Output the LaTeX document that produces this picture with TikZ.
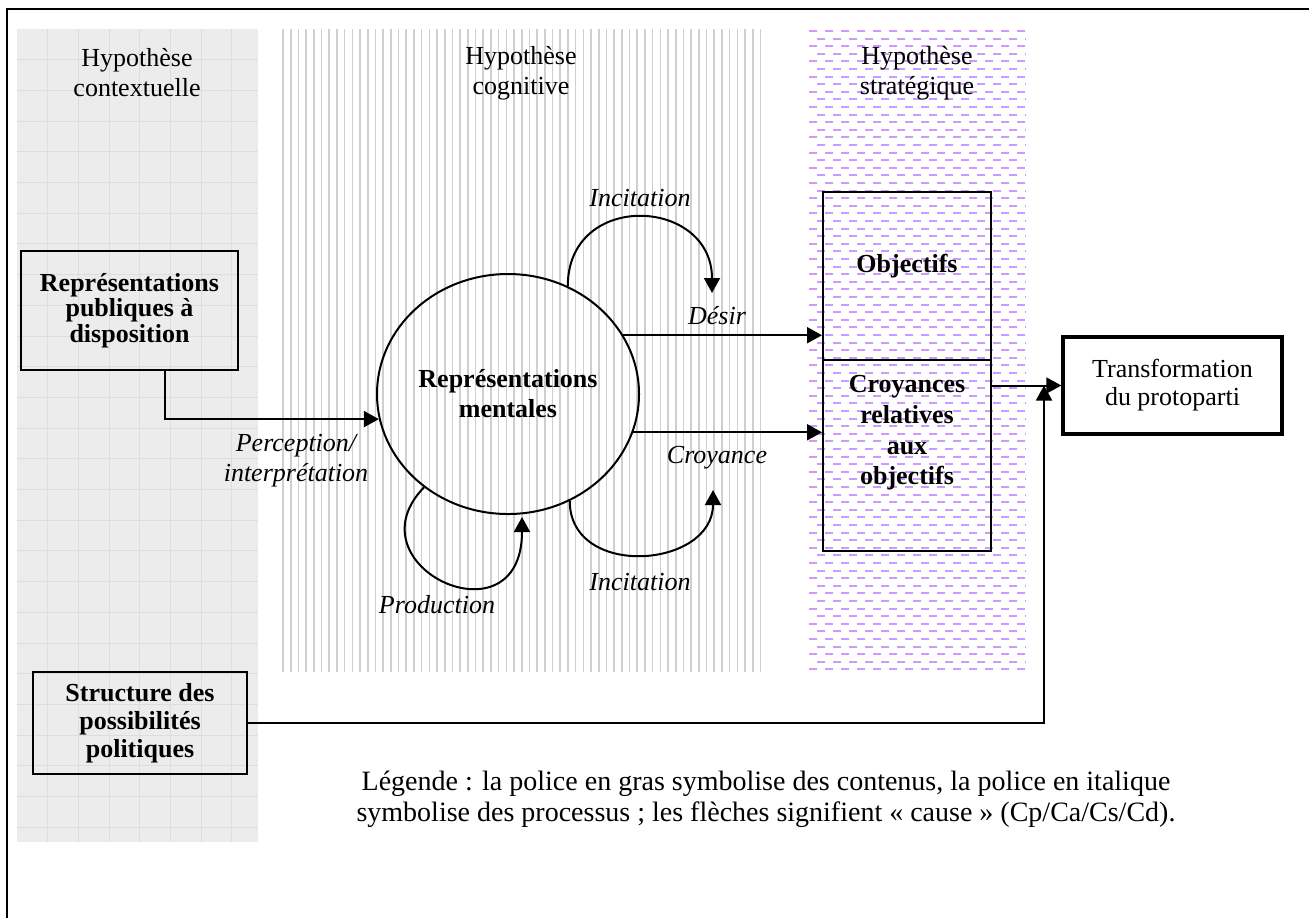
\documentclass[tikz,border=0pt]{standalone}
\usepackage{fontspec}
\setmainfont{Liberation Serif}
\usepackage{tikz}
\usetikzlibrary{arrows.meta,shapes.geometric}
\definecolor{lavande}{RGB}{204,153,255}

\begin{document}
\begin{tikzpicture}[x=0.5pt,y=0.5pt,>={Triangle[length=7.5pt,width=8pt]},
                line join=miter,font=\fontsize{13}{15}\selectfont,
                boite/.style={draw,line width=1pt,align=center,inner sep=0pt,font=\fontsize{13}{15}\selectfont\bfseries},
                gras/.style={align=center,font=\fontsize{13}{15.3}\selectfont\bfseries},
                proc/.style={align=center,font=\fontsize{13}{15}\selectfont\itshape},
                titre/.style={align=center,font=\fontsize{13}{15}\selectfont},
                fleche/.style={->,line width=1pt}]
            \useasboundingbox (0,0) rectangle (1309,-918);

            \fill[gray!15] (17,-29) rectangle (258,-842);
            \foreach \i in {1,...,7}
                \draw[gray!27,line width=0.5pt] ({17+30.7*\i},-29) -- ({17+30.7*\i},-842);
            \foreach \j in {1,...,26}
                \draw[gray!27,line width=0.5pt] (17,{-29-30.7*\j}) -- (258,{-29-30.7*\j});
            \foreach \i in {0,...,62}
                \draw[gray!38,line width=0.8pt] ({283+7.7*\i},-29) -- ({283+7.7*\i},-672);
            \foreach \j in {0,2,...,84}
                \draw[lavande,line width=1pt,dash pattern=on 4pt off 4pt] (809,{-31-7.6*\j}) -- (1026,{-31-7.6*\j});
            \foreach \j in {1,3,...,83}
                \draw[lavande,line width=1pt,dash pattern=on 4pt off 4pt,dash phase=4pt] (809,{-31-7.6*\j}) -- (1026,{-31-7.6*\j});

            \draw[line width=1.4pt] (7,-918) -- (7,-9) -- (1309,-9);

            \node[titre] (hctx) at (137,-73) {Hypothèse\\contextuelle};
            \node[titre] (hcog) at (521,-73) {Hypothèse\\cognitive};
            \node[titre] (hstr) at (917,-73) {Hypothèse\\stratégique};

            \node[boite,minimum width=108.5pt,minimum height=59.5pt,font=\fontsize{13}{11.5}\selectfont\bfseries]
                (rpd) at (129.5,-310.5) {Représentations\\publiques à\\disposition};
            \node[boite,minimum width=107pt,minimum height=51pt,font=\fontsize{13}{14}\selectfont\bfseries]
                (spp) at (140,-723) {Structure des\\possibilités\\politiques};
            \node[boite,ellipse,minimum width=131pt,minimum height=120pt] (rm) at (508,-394) {Représentations\\mentales};
            \node[boite,minimum width=84pt,minimum height=84pt] (obj) at (907,-276) {};
            \node[boite,minimum width=84pt,minimum height=95.5pt] (cro) at (907,-455.5) {};
            \node[gras] (objt) at (907,-266) {Objectifs};
            \node[gras] (crot) at (907,-433) {Croyances\\relatives\\aux\\objectifs};
            \node[titre,draw,line width=1.7pt,minimum width=109.5pt,minimum height=48.5pt,font=\fontsize{13}{14}\selectfont]
                (trans) at (1172.5,-385.5) {Transformation\\du protoparti};

            \node[proc] (perc) at (296,-461) {Perception/\\interprétation};
            \node[proc] (inc1) at (640,-198) {Incitation};
            \node[proc] (des) at (717,-316) {Désir};
            \node[proc] (croy) at (717,-458) {Croyance};
            \node[proc] (inc2) at (640,-582) {Incitation};
            \node[proc] (prod) at (437,-605) {Production};

            \node[titre,font=\fontsize{14}{15.5}\selectfont] (leg) at (766,-799)
                {Légende : la police en gras symbolise des contenus, la police en italique\\symbolise des processus ; les flèches signifient « cause » (Cp/Ca/Cs/Cd).};

            \coordinate (tinc1) at (712,-293);
            \coordinate (tinc2) at (713,-490);
            \coordinate (tprod) at (522,-517);
            \coordinate (jn) at (1044,-385.5);

            \draw[fleche] ([xshift=17.75pt]rpd.south) |- (rm.191.5);
            \draw[fleche] (rm.61) to[out=90,in=90,looseness=1.7] (tinc1);
            \draw[fleche] (rm.300) to[out=-90,in=-90,looseness=1.4] (tinc2);
            \draw[fleche] (rm.228) .. controls +(226:110) and +(-90:130) .. (tprod);
            \draw[fleche] (rm.27) -- (rm.27 -| obj.west);
            \draw[fleche] (rm.343) -- (rm.343 -| cro.west);
            \draw[fleche] (trans.west -| cro.east) -- (trans.west);
            \draw[fleche] (spp.east) -| (jn);
        \end{tikzpicture}
\end{document}
